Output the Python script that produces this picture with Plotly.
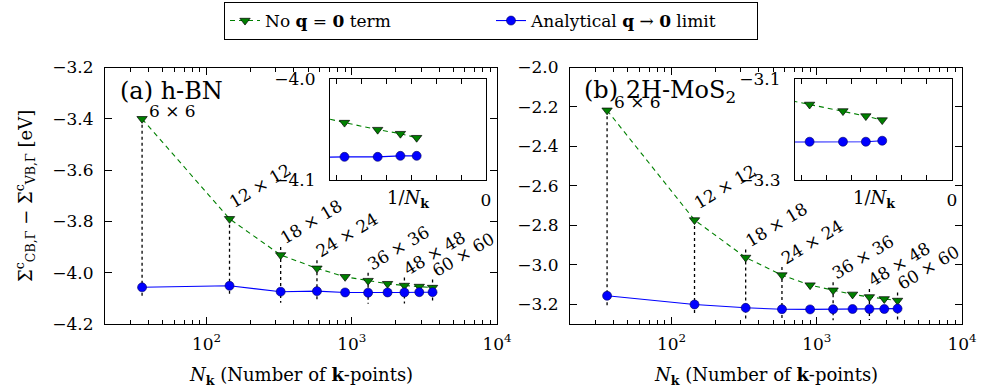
import math
import plotly.graph_objects as go

# ---------------- data ----------------
n_k = [36, 144, 324, 576, 900, 1296, 1764, 2304, 2916, 3600]
grid_labels = ["6 × 6", "12 × 12", "18 × 18", "24 × 24", "", "36 × 36", "", "48 × 48", "", "60 × 60"]

hbn_noq = [-3.400, -3.790, -3.931, -3.983, -4.016, -4.031, -4.043, -4.050, -4.054, -4.058]
hbn_analytic = [-4.057, -4.051, -4.074, -4.072, -4.077, -4.078, -4.077, -4.077, -4.076, -4.076]
mos2_noq = [-2.217, -2.773, -2.963, -3.052, -3.103, -3.129, -3.150, -3.163, -3.173, -3.181]
mos2_analytic = [-3.157, -3.201, -3.218, -3.225, -3.226, -3.225, -3.224, -3.224, -3.224, -3.222]

inv_nk = [1.0 / n for n in n_k]

legend_names = ["No <b>q</b> = <b>0</b> term", "Analytical <b>q</b> → <b>0</b> limit"]
panel_titles = ["(a) h-BN", "(b) 2H-MoS<sub>2</sub>"]

# ---------------- layout geometry (pixels) ----------------
W, H = 982, 392
FONT = "DejaVu Serif"
GREEN = "#008000"
BLUE = "#0000ff"
FS = 17


def dx(a, b):
    return [a / W, b / W]


def dy(top, bottom):
    return [1 - bottom / H, 1 - top / H]


main_top, main_bot = 67.5, 324
panels = [
    dict(x=(105, 497), yr=[-4.2, -3.2], ytick0=-4.2, inset_x=(330, 486), inset_yr=[-4.1, -4.0],
         noq=hbn_noq, ana=hbn_analytic, title=panel_titles[0], tx=118),
    dict(x=(570, 962), yr=[-3.3, -2.0], ytick0=-3.2, inset_x=(795, 952), inset_yr=[-3.3, -3.1],
         noq=mos2_noq, ana=mos2_analytic, title=panel_titles[1], tx=582),
]
inset_top, inset_bot = 79.3, 180

fig = go.Figure()
annotations = []
layout_axes = {}

minor_vals = [m * 10 ** e for e in (1, 2, 3) for m in range(2, 10)]
axis_common = dict(ticks="inside", tickcolor="black", showline=True, linecolor="black",
                   linewidth=1.2, mirror="ticks", showgrid=False, zeroline=False,
                   tickfont=dict(size=FS))

for i, p in enumerate(panels):
    xa = "x" if i == 0 else "x2"
    ya = "y" if i == 0 else "y2"
    xi = "x3" if i == 0 else "x4"
    yi = "y3" if i == 0 else "y4"
    px_per_unit = (main_bot - main_top) / (p["yr"][1] - p["yr"][0])

    # dotted guide lines
    for j, lab in enumerate(grid_labels):
        if not lab:
            continue
        top = p["noq"][j] + (0 if j < 2 else 8 / px_per_unit)
        bot = p["ana"][j] - 11 / px_per_unit
        fig.add_trace(go.Scatter(x=[n_k[j], n_k[j]], y=[top, bot], mode="lines",
                                 line=dict(color="black", width=1.3, dash="dot"),
                                 xaxis=xa, yaxis=ya, showlegend=False, hoverinfo="skip"))

    for xs_, xax, yax, show in ((n_k, xa, ya, i == 0), (inv_nk, xi, yi, False)):
        fig.add_trace(go.Scatter(x=xs_, y=p["noq"], mode="lines+markers", name=legend_names[0],
                                 line=dict(color=GREEN, width=1.1, dash="5px,4px"),
                                 marker=dict(symbol="triangle-down", size=9, color=GREEN,
                                             line=dict(color="black", width=0.7)),
                                 xaxis=xax, yaxis=yax, showlegend=show))
        fig.add_trace(go.Scatter(x=xs_, y=p["ana"], mode="lines+markers", name=legend_names[1],
                                 line=dict(color=BLUE, width=1.1),
                                 marker=dict(symbol="circle", size=9, color=BLUE,
                                             line=dict(color="#000060", width=0.6)),
                                 xaxis=xax, yaxis=yax, showlegend=show))

    key = "" if i == 0 else "2"
    layout_axes["xaxis" + key] = dict(
        type="log", domain=dx(*p["x"]), range=[1.30103, 4], anchor=ya,
        tickvals=[100, 1000, 10000], ticktext=["10<sup>2</sup>", "10<sup>3</sup>", "10<sup>4</sup>"],
        ticklen=7, ticklabelstandoff=4,
        minor=dict(tickvals=minor_vals, ticks="inside", ticklen=4, tickcolor="black", showgrid=False),
        **axis_common)
    layout_axes["yaxis" + key] = dict(
        domain=dy(main_top, main_bot), range=p["yr"], anchor=xa, dtick=0.2, tick0=p["ytick0"],
        tickformat=".1f", ticklen=7, ticklabelstandoff=7, **axis_common)
    ikey = "3" if i == 0 else "4"
    layout_axes["xaxis" + ikey] = dict(
        domain=dx(*p["inset_x"]), range=[6.25e-4, 0], anchor=yi,
        tickvals=[0, 1e-4, 2e-4, 3e-4, 4e-4, 5e-4, 6e-4], ticktext=["0", "", "", "", "", "", ""],
        ticklen=5, ticklabelstandoff=4, **axis_common)
    layout_axes["yaxis" + ikey] = dict(
        domain=dy(inset_top, inset_bot), range=p["inset_yr"], anchor=xi,
        tickvals=p["inset_yr"], tickformat=".1f", ticklen=5, ticklabelstandoff=10, **axis_common)

    # grid-size labels
    for j, lab in enumerate(grid_labels):
        if not lab:
            continue
        if j == 0:
            xs, ys, ang = 30, 8, 0
        else:
            xs, ys, ang = 30, 33, -31
        annotations.append(dict(x=math.log10(n_k[j]), y=p["noq"][j], xref=xa, yref=ya,
                                text=lab, showarrow=False, textangle=ang,
                                xshift=xs, yshift=ys, font=dict(size=FS)))
    # panel title
    annotations.append(dict(x=p["tx"] / W, y=1 - 91 / H, xref="paper", yref="paper",
                            text=p["title"], showarrow=False, xanchor="left", yanchor="middle",
                            font=dict(size=24)))
    # x title
    cx = (p["x"][0] + p["x"][1]) / 2
    annotations.append(dict(x=cx / W, y=1 - 376 / H, xref="paper", yref="paper",
                            text="<i>N</i><sub><b>k</b></sub> (Number of <b>k</b>-points)",
                            showarrow=False, xanchor="center", yanchor="middle", font=dict(size=18)))
    icx = (p["inset_x"][0] + p["inset_x"][1]) / 2
    annotations.append(dict(x=icx / W, y=1 - 199 / H, xref="paper", yref="paper",
                            text="1/<i>N</i><sub><b>k</b></sub>",
                            showarrow=False, xanchor="center", yanchor="middle", font=dict(size=18)))

annotations.append(dict(x=25 / W, y=1 - 196 / H, xref="paper", yref="paper",
                        text="Σ<sup>c</sup><sub>CB,Γ</sub> − Σ<sup>c</sup><sub>VB,Γ</sub> [eV]",
                        showarrow=False, textangle=-90, xanchor="center", yanchor="middle",
                        font=dict(size=18)))

fig.update_layout(
    width=W, height=H, margin=dict(l=0, r=0, t=0, b=0, autoexpand=False),
    paper_bgcolor="white", plot_bgcolor="white",
    font=dict(family=FONT, size=FS, color="black"),
    legend=dict(orientation="h", x=0.5, xanchor="center", y=1 - 2 / H, yanchor="top",
                bordercolor="black", borderwidth=1, bgcolor="white", font=dict(size=FS),
                entrywidth=221),
    annotations=annotations,
    **layout_axes,
)

fig.write_html("out.html", config={"displayModeBar": False},
               post_script="document.body.style.margin='0';")
